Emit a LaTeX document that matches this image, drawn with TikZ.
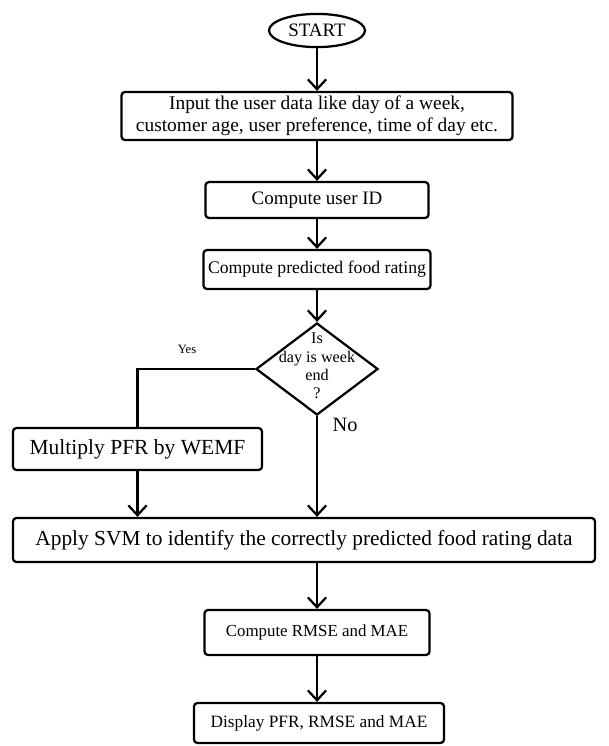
\documentclass[tikz,border=0pt]{standalone}
\usepackage{fontspec}
\setmainfont{Liberation Serif}
\usetikzlibrary{arrows.meta}
\usetikzlibrary{shapes.geometric}

\begin{document}
\begin{tikzpicture}[x=0.025cm,y=-0.025cm,line width=1.6pt,
  box/.style={draw,rounded corners=2.5pt,align=center,inner sep=0pt},
  flow/.style={-{Straight Barb[length=7pt,width=13pt]}},
  lbl/.style={inner sep=0pt,align=center}]
\useasboundingbox (0,0) rectangle (609,746);
\node[draw,ellipse,inner sep=0pt,minimum width=2.4cm,minimum height=0.83cm,font=\fontsize{13.5}{15}\selectfont] (start) at (317,30.5) {START};
\node[box,minimum width=9.775cm,minimum height=1.2cm,font=\fontsize{13.8}{15.5}\selectfont] (input) at (317,116) {Input the user data like day of a week,\\customer age, user preference, time of day etc.};
\node[box,minimum width=5.575cm,minimum height=0.9cm,font=\fontsize{13.5}{15}\selectfont] (uid) at (317,200) {Compute user ID};
\node[box,minimum width=5.675cm,minimum height=0.975cm,font=\fontsize{12.6}{14}\selectfont] (pfr) at (317,269.5) {Compute predicted food rating};
\node[draw,diamond,inner sep=0pt,minimum width=3.05cm,minimum height=2.3cm] (wknd) at (317,369) {};
\node[lbl,font=\fontsize{11.5}{13}\selectfont] (wkndtxt) at (317,366) {Is\\day is week\\end\\?};
\node[lbl,font=\fontsize{9}{10}\selectfont] (yes) at (187,349) {Yes};
\node[lbl,font=\fontsize{14.5}{16}\selectfont] (no) at (345,425) {No};
\node[box,minimum width=6.225cm,minimum height=1.05cm,font=\fontsize{15.3}{17}\selectfont] (mult) at (137.5,449) {Multiply PFR by WEMF};
\node[box,minimum width=14.55cm,minimum height=1.1cm,font=\fontsize{15.2}{17}\selectfont] (svm) at (304,540) {Apply SVM to identify the correctly predicted food rating data};
\node[box,minimum width=5.625cm,minimum height=1.125cm,font=\fontsize{12}{14}\selectfont] (rmse) at (317,632.5) {Compute RMSE and MAE};
\node[box,minimum width=6.25cm,minimum height=1cm,font=\fontsize{12.3}{14}\selectfont] (disp) at (319,723) {Display PFR, RMSE and MAE};
\draw[flow] (start) -- (input);
\draw[flow] (input) -- (uid);
\draw[flow] (uid) -- (pfr);
\draw[flow] (pfr) -- (wknd);
\draw (wknd.west) -| (mult.north);
\draw[flow] (mult) -- (mult |- svm.north);
\draw[flow] (wknd) -- (wknd |- svm.north);
\draw[flow] (svm.south -| rmse) -- (rmse);
\draw[flow] (rmse) -- (disp.north -| rmse);
\end{tikzpicture}
\end{document}
